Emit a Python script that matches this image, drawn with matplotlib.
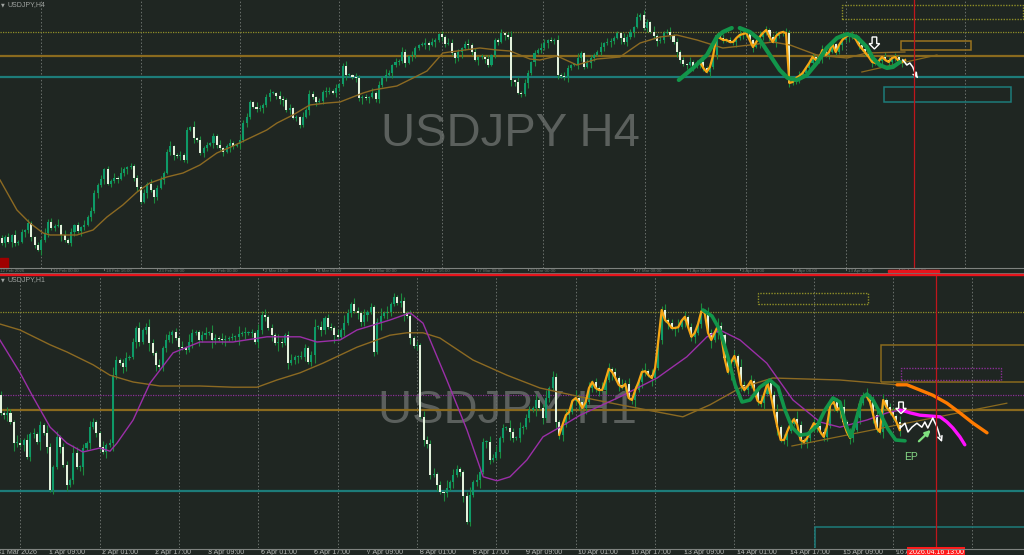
"""
USDJPY H4 / H1 trading screenshot, redrawn with matplotlib.

Prices are stored as pips above a base price (157.00 for H4, 159.00 for H1),
one close per bar. The open of a bar is the close of the bar before it.
"""

import matplotlib.pyplot as plt
import numpy as np
from matplotlib import transforms
from matplotlib.lines import Line2D
from matplotlib.patches import Polygon, Rectangle

plt.rcParams["font.family"] = ["Liberation Sans", "DejaVu Sans"]


# 1. H4 data (top chart), pips above 157.00, bar 0 at the left edge

H4_BASE = 157.00
h4_first_open = 62
h4_close_pips = [
    57, 63, 58, 65, 57, 58, 68, 70, 77, 63,
    55, 50, 60, 67, 78, 72, 74, 75, 65, 60,
    57, 68, 75, 69, 73, 75, 83, 89, 107, 115,
    121, 131, 116, 119, 122, 121, 127, 131, 133, 134,
    122, 113, 98, 107, 116, 110, 103, 112, 120, 127,
    148, 154, 145, 144, 145, 140, 170, 173, 162, 160,
    147, 152, 155, 157, 164, 155, 152, 148, 154, 157,
    154, 156, 160, 177, 183, 198, 193, 191, 192, 195,
    203, 207, 207, 204, 201, 200, 190, 192, 182, 183,
    175, 183, 190, 206, 203, 198, 199, 208, 208, 209,
    207, 212, 216, 234, 225, 225, 223, 222, 202, 203,
    202, 203, 207, 201, 215, 222, 225, 227, 235, 238,
    239, 248, 237, 244, 245, 252, 255, 255, 257, 255,
    258, 260, 266, 263, 256, 257, 247, 242, 248, 252,
    256, 255, 248, 240, 243, 243, 241, 235, 245, 260,
    258, 267, 265, 263, 220, 218, 207, 206, 217, 227,
    238, 247, 250, 252, 257, 260, 259, 260, 225, 224,
    223, 232, 235, 235, 242, 247, 233, 237, 242, 245,
    248, 253, 257, 258, 259, 262, 267, 262, 258, 263,
    268, 273, 283, 285, 272, 278, 268, 264, 259, 260,
    267, 268, 265, 258, 248, 240, 236, 235, 238, 234,
    236, 238, 232, 228, 233, 245, 264, 262, 260, 260,
    258, 258, 262, 265, 266, 267, 260, 253, 258, 263,
    267, 270, 263, 258, 264, 267, 268, 267, 217, 218,
    222, 224, 227, 232, 237, 243, 240, 242, 250, 245,
    248, 256, 248, 255, 260, 263, 265, 264, 261, 255,
    251, 247, 243, 238, 237, 239, 243, 240, 238, 242,
    243, 239, 238, 240,
]
# wick lengths in pips, one digit per bar
h4_wick_up = (
    "3241523142 1325342615 2413152432 4132526213 2314251342 3512423161 4231325124 "
    "2153421532 3421532412 1524313254 2413521432 3152426314 2531421352 4213254131 "
    "3524132412 2413615243 1325413252 4312521432 2514322153 3142531624 2351423152 "
    "4132513242 3215243126 1423512434 2531243152 3412531423 2153241532 4231524132"
)
h4_wick_down = (
    "2415321534 3152423162 1342531425 2513241352 3421526314 1352423152 2431532416 "
    "3152421325 2413562413 3215241352 1432512436 2513423152 3241532145 1524312536 "
    "2431524213 3152641325 2413251342 3521432153 1342531624 2513241352 3142532415 "
    "2431524132 1352432516 3241523142 2513241352 4132525314 2315243142 3152431524"
)

h4_ma_bars = [
    -0.5, 4.6, 8.5, 12.5, 14.6, 22.7, 27.6, 31.8, 36.6, 40.9, 44.8, 49.9, 54.8,
    59.9, 65, 69.9, 75, 80.1, 83.2, 88, 93.1, 98.3, 102.2, 109.2, 112.2, 119.4,
    124.3, 128.5, 133.3, 135.4, 144.5, 149.6, 153.6, 159.6, 162.6, 167.8, 173.8,
    179.9, 186.8, 192.9, 198.9, 204, 210.1, 217.9, 226.1, 233, 238.2, 246.3,
    255.4, 261.4, 272.9,
]
h4_ma_pips = [
    120, 90, 77, 67, 65, 65, 70, 83, 95, 108, 117, 123, 127, 135, 147, 154, 162,
    170, 177, 185, 195, 197, 198, 207, 210, 214, 222, 229, 247, 248, 252, 250,
    249, 241, 240, 244, 235, 241, 243, 257, 263, 265, 260, 252, 255, 258, 255,
    245, 242, 247, 248,
]

h4_grid_bars = [12, 42, 72, 102, 133, 163.5, 194.5, 225, 255, 291]
h4_tick_bars = [-1, 15, 31, 47, 63, 79, 95, 111, 127, 143, 159, 175, 191, 207, 223, 239, 255, 271]
h4_tick_labels = [
    "12 Feb 2026", "16 Feb 00:00", "18 Feb 16:00", "23 Feb 08:00", "26 Feb 00:00",
    "2 Mar 16:00", "5 Mar 08:00", "10 Mar 00:00", "12 Mar 16:00", "17 Mar 08:00",
    "20 Mar 00:00", "24 Mar 16:00", "27 Mar 08:00", "1 Apr 00:00", "3 Apr 16:00",
    "8 Apr 08:00", "13 Apr 00:00", "15 Apr 16:00",
]
h4_cursor_bar = 275.6

# hand drawn marks on the H4 chart
h4_zigzag_from = 211
h4_wave_a_bars = [204.6, 208.9, 213.1, 216.1, 217.9, 220.6]
h4_wave_a_pips = [220, 232, 245, 263, 268, 272]
h4_wave_b_bars = [223, 226.1, 229.1, 232.1, 235.1, 237.5, 240.3, 243.3, 246.3, 249.3,
                  252.4, 255.4, 258.4, 261.4, 263.2, 265.3, 267.5, 269.3, 271.4]
h4_wave_b_pips = [272, 268, 260, 245, 230, 222, 220, 225, 237, 252,
                  262, 266, 263, 253, 242, 235, 232, 233, 238]
h4_white_bars = [272.3, 273.5, 274.4, 275.3, 276.2, 276.8]
h4_white_pips = [240, 235, 237, 233, 225, 222]
h4_trend_bars = [259.9, 282.6]
h4_trend_pips = [228, 245]
h4_down_arrow = (263.7, 263, 251)  # bar, top pips, tip pips
h4_zone_dotted = (253.9, 308.6, 281, 295)  # bar from, bar to, pips low, pips high
h4_zone_gold = (271.7, 292.8, 250, 259)
h4_zone_teal = (266.6, 304.9, 198, 213)


# 2. H1 data (bottom chart), pips above 159.00, first bar is 31 Mar 18:00

H1_BASE = 159.00
h1_first_bar = -6
h1_first_open = 47.2
h1_close_pips = [
    42.7, 42.2, 42.7, 40.6, 35.2, 35.2,
    34.8, 36.0, 31.8, 37.5, 37.5, 35.6, 39.8, 37.7, 34.3, 23.5,
    29.3, 36.8, 34.3, 29.8, 24.8, 26.0, 32.7, 29.3, 29.3, 33.9,
    35.2, 39.3, 40.6, 37.7, 34.3, 33.1, 34.8, 35.2, 52.3, 56.0,
    55.2, 54.2, 56.4, 56.8, 60.6, 63.9, 60.6, 63.5, 64.3, 60.2,
    57.7, 54.8, 54.3, 58.9, 61.0, 62.3, 63.1, 61.4, 59.3, 58.9,
    58.5, 60.6, 62.7, 63.1, 61.0, 62.3, 62.7, 62.7, 61.0, 61.4,
    61.2, 61.0, 61.2, 61.4, 61.8, 61.8, 62.5, 62.7, 62.7, 62.7,
    62.8, 60.6, 63.5, 67.2, 66.8, 63.9, 62.3, 60.2, 60.6, 60.3,
    62.3, 55.2, 56.0, 56.7, 56.8, 56.8, 58.9, 55.6, 57.3, 64.3,
    64.3, 63.5, 66.4, 64.3, 63.9, 62.3, 61.8, 63.5, 65.2, 67.7,
    70.0, 68.3, 67.8, 65.6, 67.3, 67.9, 69.2, 58.1, 65.6, 67.0,
    67.7, 68.1, 70.0, 71.7, 70.3, 70.8, 67.7, 67.0, 61.4, 59.5,
    59.8, 41.8, 36.0, 35.0, 27.3, 27.5, 24.8, 23.1, 22.7, 23.9,
    25.6, 27.3, 28.7, 28.1, 22.0, 15.6, 22.3, 25.6, 26.0, 28.1,
    35.6, 35.6, 31.0, 31.4, 33.1, 36.4, 38.9, 38.9, 38.1, 36.4,
    36.4, 38.9, 39.2, 41.4, 43.5, 43.9, 46.0, 43.9, 41.4, 46.4,
    48.9, 51.8, 40.6, 37.3, 39.8, 42.2, 43.0, 45.8, 46.5, 45.5,
    44.0, 45.5, 49.0, 50.5, 49.0, 48.5, 48.5, 51.0, 53.8, 53.0,
    51.5, 49.8, 49.2, 50.0, 46.5, 46.0, 48.5, 50.5, 53.0, 53.2,
    52.2, 51.5, 54.0, 61.0, 68.5, 66.0, 65.2, 64.0, 64.0, 64.2,
    65.8, 66.8, 64.2, 61.8, 62.8, 65.0, 68.2, 67.8, 62.8, 61.0,
    62.8, 64.5, 62.2, 56.5, 53.0, 55.5, 57.0, 54.2, 49.8, 48.5,
    49.5, 50.8, 48.5, 45.8, 45.2, 47.5, 50.2, 47.2, 43.0, 39.2,
    36.0, 36.0, 38.2, 40.0, 41.2, 39.8, 36.0, 35.5, 36.5, 38.5,
    40.2, 39.5, 38.0, 36.8, 39.5, 44.8, 45.5, 43.5, 44.2, 40.5,
    38.0, 36.5, 38.5, 41.5, 45.2, 47.0, 47.0, 45.5, 42.2, 39.0,
    38.0, 46.0, 44.2, 43.2, 42.0, 40.5, 38.5,
]
# wick lengths in half pips, one digit per bar
h1_wick_up = (
    "2132142131 3121421312 2143121321 1312421231 2131242131 3212131421 1231421321 "
    "2141312132 3121421231 1321241312 2131421321 3121241312 1421312132 2312141321 "
    "1241312132 3121421312 2131241321 1321421231 2141312132 3121241321 2312141312 "
    "1241321421 2131421312 3121241321 1421312132 2312141231 1241321312 2131421321"
)
h1_wick_down = (
    "1231421312 2141312131 3121241312 2131421321 1321241312 2141312131 3121421231 "
    "1241312132 2131421312 3121241321 1421312132 2312141321 1241312132 2131421312 "
    "3121241321 1321421231 2141312132 3121241312 2312141312 1241321421 2131421312 "
    "3121241321 1421312132 2312141231 1241321312 2131421321 3121421312 2131241321"
)

h1_slow_bars = [-6.2, -0.1, 9, 14.1, 22, 27.1, 34.1, 42.2, 54.3, 64.3, 71.6, 77.6,
                84.6, 91.5, 101.8, 111.8, 116.9, 121.8, 126.9, 136.9, 147.2, 157.2,
                169.3, 181.4, 200.4, 208.6, 217.7, 227.6, 247.9, 265.2]
h1_slow_pips = [65, 63.5, 59.8, 58, 54.8, 52.2, 50.5, 49.5, 49.5, 49.2, 49.2, 51,
                52.8, 55.2, 59.2, 62.2, 62.8, 62.8, 61.5, 56, 52.2, 49,
                46.8, 44.8, 41.8, 44.8, 49, 51.5, 51, 49.8]
h1_fast_bars = [-6.2, -0.1, 3.8, 9, 14.1, 18.9, 24.1, 27.1, 29.2, 34.1, 39.2, 46.2,
                50.4, 54.3, 64.3, 74.6, 84.6, 89.7, 96.7, 101.8, 111.8, 117.9, 121.8,
                129, 135.1, 140, 144.2, 148.1, 153.2, 158.1, 165.3, 169.3, 181.4,
                192.6, 201.6, 207.7, 211.6, 217.7, 225.8, 233.7, 241.9, 247.9, 256.1,
                262.2, 266.1]
h1_fast_pips = [61, 52.8, 46.8, 39.2, 35.2, 33, 34, 33.2, 35.2, 41, 50.2, 57.8,
                59.2, 60.5, 60.5, 61.8, 61.8, 60.5, 61, 63.5, 66, 67.8, 65.2,
                51, 38.5, 26.8, 25.8, 26.8, 31, 36.8, 40.2, 42.2, 46.8,
                51.5, 56.8, 61.8, 63.5, 61, 55.2, 46, 40.5, 39.2, 41,
                42.8, 43.5]

h1_grid_bars = [0, 24, 48, 72, 96, 120, 144, 168, 192, 216, 240, 264, 288]
h1_tick_bars = [-7, 9, 25, 41, 57, 73, 89, 105, 121, 137, 153, 169, 185, 201, 217, 233, 249, 265]
h1_tick_labels = [
    "31 Mar 2026", "1 Apr 09:00", "2 Apr 01:00", "2 Apr 17:00", "3 Apr 09:00",
    "6 Apr 01:00", "6 Apr 17:00", "7 Apr 09:00", "8 Apr 01:00", "8 Apr 17:00",
    "9 Apr 09:00", "10 Apr 01:00", "10 Apr 17:00", "13 Apr 09:00", "14 Apr 01:00",
    "14 Apr 17:00", "15 Apr 09:00", "16 Apr 01:00",
]
h1_cursor_bar = 277
h1_cursor_label = "2026.04.16 13:00"

# hand drawn marks on the H1 chart
h1_zigzag_from = 163
h1_wave_bars = [206.5, 209.2, 211.6, 214, 216.2, 218.3, 220.7, 223.7, 226.7, 229.2,
                231.3, 233.4, 235.8, 238.2, 241, 243.4, 245.8, 247.9, 249.7, 251.2,
                252.8, 254.6, 256.1, 257.9, 260, 262.4, 264.8, 267.6]
h1_wave_pips = [68.5, 67, 63.5, 56.8, 49.8, 45.5, 46, 49.2, 51, 49.2,
                43.5, 39.2, 37.2, 37.5, 39.5, 43.5, 46.5, 45.5, 39.8, 36.8,
                41, 46.5, 47.5, 46, 42.8, 38.8, 36, 35.8]
h1_orange_bars = [265.2, 268.2, 272.1, 276, 280.3, 284.2, 288.2, 292.4]
h1_orange_pips = [49.8, 49.8, 48.5, 47.2, 45.2, 42.8, 40.2, 37.8]
h1_magenta_bars = [266.1, 267.6, 269.1, 272.1, 275.1, 278.2, 280.3, 282.1, 284.2, 285.7]
h1_magenta_pips = [43.5, 43.2, 42.8, 42.2, 42, 41.8, 40.5, 39, 36.8, 34.8]
h1_white_bars = [266.1, 267.6, 268.5, 269.7, 271.2, 272.7, 273.6, 274.5, 276, 277.3, 278.2, 279.1]
h1_white_pips = [39, 40.2, 38, 39.2, 40.2, 39.2, 40.5, 39, 41.5, 39.2, 36.8, 34.8]
h1_entry_arrow = (271.2, 35.2, 276, 39)  # bar, pips -> bar, pips
h1_entry_label = (269.4, 31.8, "EP")
h1_trend_bars = [233.4, 298.4]
h1_trend_pips = [34.5, 45.2]
h1_down_arrow = (266.4, 45.5, 42.6)
h1_zone_dotted = (223.1, 256.4, 70, 72.8)
h1_zone_gold = (260.3, 315, 50.5, 59.8)
h1_zone_purple = (266.4, 296.6, 51, 54)
h1_zone_teal = (240.3, 315, 0, 14.2)

# horizontal levels shared by both charts
level_dotted = 159.68
level_gold = 159.435
level_purple = 159.4725
level_teal = 159.232


# 3. Colours

BG = "#1f2622"
BULL = "#0e9a68"
BEAR = "#e3f1dc"
WICK = "#1c8a3e"
GRID = "#6a706c"
OLIVE = "#8f8f28"
GOLD = "#8a6a1e"
TEAL = "#1d7c7a"
PURPLE = "#8a2f96"
MA_BROWN = "#8c6a22"
MA_FAST = "#9b2fa8"
ZIGZAG = "#f6a614"
WAVE = "#12954a"
WATERMARK = "#5b605d"
AXIS_TEXT = "#b5b8b5"
RED = "#e8141c"


def draw_candles(ax, first_bar, first_open, close_pips, base, wick_up, wick_down, unit, min_body):
    closes = base + np.array(close_pips) / 100
    opens = np.concatenate([[base + first_open / 100], closes[:-1]])
    n = len(closes)
    up = np.array([int(c) for c in wick_up.replace(" ", "").ljust(n, "1")[:n]]) * unit
    down = np.array([int(c) for c in wick_down.replace(" ", "").ljust(n, "1")[:n]]) * unit
    x = first_bar + np.arange(n)
    highs = np.maximum(opens, closes) + up
    lows = np.minimum(opens, closes) - down
    ax.vlines(x, lows, highs, color=WICK, linewidth=0.8, zorder=3)
    body_low = np.minimum(opens, closes)
    body_height = np.maximum(np.abs(closes - opens), min_body)
    bull = closes >= opens
    ax.bar(x[bull], body_height[bull], bottom=body_low[bull], width=0.62,
           color=BULL, linewidth=0, zorder=4)
    ax.bar(x[~bull], body_height[~bull], bottom=body_low[~bull], width=0.62,
           color=BEAR, linewidth=0, zorder=4)
    return x, closes


def price(base, pips):
    return base + np.array(pips, dtype=float) / 100


def zone(ax, box, base, color, dotted=False, lw=1.0):
    x0, x1, p0, p1 = box
    ax.add_patch(Rectangle((x0, base + p0 / 100), x1 - x0, (p1 - p0) / 100,
                           fill=False, edgecolor=color, linewidth=lw,
                           linestyle=(0, (1, 1)) if dotted else "-", zorder=6))


def hollow_down_arrow(ax, spec, base):
    bx, top, tip = spec
    top, tip = base + top / 100, base + tip / 100
    neck = tip + (top - tip) * 0.45
    points = [(bx - 0.7, top), (bx + 0.7, top), (bx + 0.7, neck), (bx + 1.6, neck),
              (bx, tip), (bx - 1.6, neck), (bx - 0.7, neck)]
    ax.add_patch(Polygon(points, closed=True, fill=False, edgecolor="white",
                         linewidth=1.0, zorder=9))


# 4. Figure and the two chart panels

fig = plt.figure(figsize=(10.24, 5.55), dpi=100, facecolor=BG)
ax_h4 = fig.add_axes([0, 287 / 555, 1, 268 / 555])
ax_h1 = fig.add_axes([0, 7 / 555, 1, 272 / 555])

for ax in (ax_h4, ax_h1):
    ax.set_facecolor(BG)
    ax.set_xticks([])
    ax.set_yticks([])
    for spine in ax.spines.values():
        spine.set_visible(False)

ax_h4.set_xlim(-0.51, 308.9)
ax_h4.set_ylim(157.32, 160.00)
ax_h1.set_xlim(-6.17, 303.6)
ax_h1.set_ylim(159.09, 159.77)


# 5. H4 chart

for bar in h4_grid_bars:
    ax_h4.axvline(bar, color=GRID, linewidth=0.7, linestyle=(0, (1.5, 2)), zorder=1)

ax_h4.text(0.498, 0.50, "USDJPY H4", transform=ax_h4.transAxes, fontsize=34,
           color=WATERMARK, ha="center", va="center", zorder=0.5)

ax_h4.axhline(level_dotted, color=OLIVE, linewidth=0.9, linestyle=(0, (1, 1)), zorder=2)
ax_h4.axhline(level_gold, color=GOLD, linewidth=1.6, zorder=2)
ax_h4.axhline(level_teal, color=TEAL, linewidth=1.6, zorder=2)

h4_x, h4_closes = draw_candles(ax_h4, 0, h4_first_open, h4_close_pips, H4_BASE,
                               h4_wick_up, h4_wick_down, 0.01, 0.008)
ax_h4.plot(h4_ma_bars, price(H4_BASE, h4_ma_pips), color=MA_BROWN, linewidth=1.0, zorder=5)

ax_h4.plot(h4_x[h4_zigzag_from:], h4_closes[h4_zigzag_from:], color=ZIGZAG,
           linewidth=1.6, zorder=7)
ax_h4.plot(h4_wave_a_bars, price(H4_BASE, h4_wave_a_pips), color=WAVE, linewidth=3.0,
           solid_capstyle="round", solid_joinstyle="round", zorder=8)
ax_h4.plot(h4_wave_b_bars, price(H4_BASE, h4_wave_b_pips), color=WAVE, linewidth=3.0,
           solid_capstyle="round", solid_joinstyle="round", zorder=8)
ax_h4.plot(h4_trend_bars, price(H4_BASE, h4_trend_pips), color=GOLD, linewidth=0.9, zorder=6)
ax_h4.plot(h4_white_bars[:-1], price(H4_BASE, h4_white_pips[:-1]), color="white",
           linewidth=1.1, zorder=9)
ax_h4.annotate("", xy=(h4_white_bars[-1], H4_BASE + h4_white_pips[-1] / 100),
               xytext=(h4_white_bars[-2], H4_BASE + h4_white_pips[-2] / 100),
               arrowprops=dict(arrowstyle="->", color="white", lw=1.1, mutation_scale=7),
               zorder=9)
hollow_down_arrow(ax_h4, h4_down_arrow, H4_BASE)

zone(ax_h4, h4_zone_dotted, H4_BASE, OLIVE, dotted=True)
zone(ax_h4, h4_zone_gold, H4_BASE, "#9a7420", lw=1.1)
zone(ax_h4, h4_zone_teal, H4_BASE, TEAL, lw=1.1)
ax_h4.axvline(h4_cursor_bar, color="#c0161c", linewidth=0.9, zorder=10)


# 6. H1 chart

for bar in h1_grid_bars:
    ax_h1.axvline(bar, color=GRID, linewidth=0.7, linestyle=(0, (1.5, 2)), zorder=1)

ax_h1.text(0.496, 0.505, "USDJPY H1", transform=ax_h1.transAxes, fontsize=34,
           color=WATERMARK, ha="center", va="center", zorder=0.5)

ax_h1.axhline(level_dotted, color=OLIVE, linewidth=0.9, linestyle=(0, (1, 1)), zorder=2)
ax_h1.axhline(level_purple, color=PURPLE, linewidth=0.9, linestyle=(0, (1, 1)), zorder=2)
ax_h1.axhline(level_gold, color=GOLD, linewidth=1.6, zorder=2)
ax_h1.axhline(level_teal, color=TEAL, linewidth=1.6, zorder=2)

h1_x, h1_closes = draw_candles(ax_h1, h1_first_bar, h1_first_open, h1_close_pips, H1_BASE,
                               h1_wick_up, h1_wick_down, 0.005, 0.0025)
ax_h1.plot(h1_slow_bars, price(H1_BASE, h1_slow_pips), color=MA_BROWN, linewidth=1.0, zorder=5)
ax_h1.plot(h1_fast_bars, price(H1_BASE, h1_fast_pips), color=MA_FAST, linewidth=1.0, zorder=5)

start = h1_zigzag_from - h1_first_bar
ax_h1.plot(h1_x[start:], h1_closes[start:], color=ZIGZAG, linewidth=1.6, zorder=7)
ax_h1.plot(h1_wave_bars, price(H1_BASE, h1_wave_pips), color=WAVE, linewidth=2.6,
           solid_capstyle="round", solid_joinstyle="round", zorder=8)
ax_h1.plot(h1_trend_bars, price(H1_BASE, h1_trend_pips), color=GOLD, linewidth=0.9, zorder=6)
ax_h1.plot(h1_orange_bars, price(H1_BASE, h1_orange_pips), color="#ff7b00", linewidth=2.4,
           solid_capstyle="round", zorder=8)
ax_h1.plot(h1_magenta_bars, price(H1_BASE, h1_magenta_pips), color="#ff10ff", linewidth=2.4,
           solid_capstyle="round", zorder=8)
ax_h1.plot(h1_white_bars[:-1], price(H1_BASE, h1_white_pips[:-1]), color="white",
           linewidth=1.1, zorder=9)
ax_h1.annotate("", xy=(h1_white_bars[-1], H1_BASE + h1_white_pips[-1] / 100),
               xytext=(h1_white_bars[-2], H1_BASE + h1_white_pips[-2] / 100),
               arrowprops=dict(arrowstyle="->", color="white", lw=1.1, mutation_scale=8),
               zorder=9)
ex0, ep0, ex1, ep1 = h1_entry_arrow
ax_h1.annotate("", xy=(ex1, H1_BASE + ep1 / 100), xytext=(ex0, H1_BASE + ep0 / 100),
               arrowprops=dict(arrowstyle="-|>", color="#7fe07f", lw=1.6, mutation_scale=8),
               zorder=9)
ax_h1.text(h1_entry_label[0], H1_BASE + h1_entry_label[1] / 100, h1_entry_label[2],
           color="#86d986", fontsize=7.5, ha="center", va="center", zorder=9)
hollow_down_arrow(ax_h1, h1_down_arrow, H1_BASE)

zone(ax_h1, h1_zone_dotted, H1_BASE, OLIVE, dotted=True)
zone(ax_h1, h1_zone_gold, H1_BASE, "#8a6a1e", lw=1.1)
zone(ax_h1, h1_zone_purple, H1_BASE, PURPLE, dotted=True)
zone(ax_h1, h1_zone_teal, H1_BASE, TEAL, lw=1.1)
ax_h1.axvline(h1_cursor_bar, color="#c0161c", linewidth=0.9, zorder=10)


# 7. Time scales, separators and labels

def fy(px):
    return 1 - px / 555


fig.add_artist(Line2D([0, 1], [fy(268.5), fy(268.5)], color="#7e827f", linewidth=0.8))
fig.add_artist(Line2D([0, 1], [fy(272.5), fy(272.5)], color="#7e827f", linewidth=0.6))
fig.add_artist(Line2D([0, 1], [fy(275), fy(275)], color=RED, linewidth=1.7))
fig.add_artist(Line2D([0, 1], [fy(548.5), fy(548.5)], color="#7e827f", linewidth=0.8))

h4_axis = transforms.blended_transform_factory(ax_h4.transData, fig.transFigure)
for bar, label in zip(h4_tick_bars, h4_tick_labels):
    ax_h4.add_artist(Line2D([bar, bar], [fy(268.5), fy(270)], color="#7e827f",
                            linewidth=0.6, transform=h4_axis, clip_on=False))
    ax_h4.text(bar + 0.6, fy(270.6), label, transform=h4_axis, fontsize=3.2,
               color="#6f7370", ha="left", va="center", clip_on=False)
ax_h4.add_artist(Rectangle((h4_cursor_bar - 7.7, fy(272.4)), 15.4, 2.6 / 555,
                           transform=h4_axis, color=RED, clip_on=False, zorder=12))

h1_axis = transforms.blended_transform_factory(ax_h1.transData, fig.transFigure)
for bar, label in zip(h1_tick_bars, h1_tick_labels):
    ax_h1.add_artist(Line2D([bar, bar], [fy(548.5), fy(550.5)], color="#7e827f",
                            linewidth=0.6, transform=h1_axis, clip_on=False))
    ax_h1.text(bar - 0.2, fy(552), label, transform=h1_axis, fontsize=5,
               color=AXIS_TEXT, ha="left", va="center", clip_on=False)
ax_h1.text(h1_cursor_bar, fy(552), h1_cursor_label, transform=h1_axis, fontsize=5,
           color="white", ha="center", va="center", clip_on=False, zorder=12,
           bbox=dict(boxstyle="square,pad=0.25", facecolor="#ff1a1a", edgecolor="none"))

fig.add_artist(Rectangle((0, fy(268)), 8 / 1024, 10 / 555, color="#a00000"))

fig.text(1 / 1024, fy(4.5), "\u25bc", fontsize=3.5, color="#a0a4a1", va="center",
         family="DejaVu Sans")
fig.text(7 / 1024, fy(4.5), "USDJPY,H4", fontsize=5, color="#a0a4a1", va="center")
fig.text(1 / 1024, fy(279.5), "\u25bc", fontsize=3.5, color="#a0a4a1", va="center",
         family="DejaVu Sans")
fig.text(7 / 1024, fy(279.5), "USDJPY,H1", fontsize=5, color="#a0a4a1", va="center")

fig.savefig("out.png", dpi=100, facecolor=BG)
plt.close(fig)
